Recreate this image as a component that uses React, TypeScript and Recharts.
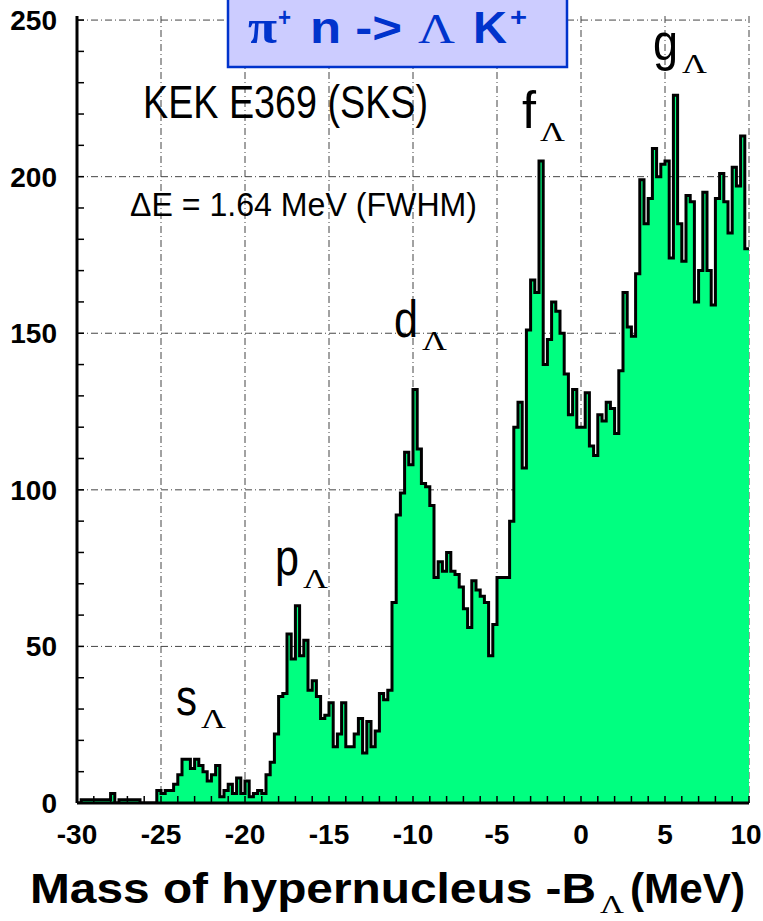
import React from "react"
import { ComposedChart, Area, XAxis, YAxis, CartesianGrid } from "recharts"

const SANS = "'Liberation Sans', Arial, Helvetica, sans-serif"
const SERIF = "'Liberation Serif', 'Times New Roman', serif"
const GREEN = "#00ff80"
const BLUE = "#0033cc"

// histogram: 0.25 MeV bins starting at -30 MeV
const BIN_START = -30
const BIN_WIDTH = 0.25

const countsM30 = [0, 1, 1, 1, 1, 1, 1, 1, 3, 0, 1, 1, 1, 1, 1, 0, 0, 0, 0, 4]
const countsM25 = [3, 4, 4, 6, 9, 14, 14, 11, 14, 12, 10, 7, 9, 12, 2, 4, 6, 3, 8, 3]
const countsM20 = [7, 2, 3, 4, 3, 9, 13, 22, 34, 35, 54, 46, 63, 47, 52, 36, 39, 34, 27, 28]
const countsM15 = [32, 18, 22, 32, 18, 18, 22, 27, 16, 26, 18, 23, 35, 33, 36, 64, 92, 99, 112, 108]
const countsM10 = [132, 113, 102, 101, 95, 72, 77, 74, 80, 74, 73, 69, 62, 56, 71, 68, 66, 64, 47, 57]
const countsM5 = [72, 72, 72, 90, 120, 128, 107, 151, 167, 163, 205, 140, 148, 160, 157, 150, 137, 124, 132, 120]
const countsP0 = [120, 131, 114, 111, 124, 122, 128, 126, 118, 138, 163, 152, 149, 169, 199, 185, 193, 209, 200, 204]
const countsP5 = [205, 174, 226, 185, 173, 194, 192, 160, 170, 195, 170, 159, 193, 201, 192, 182, 203, 197, 213, 177]

const counts = [
  ...countsM30, ...countsM25, ...countsM20, ...countsM15,
  ...countsM10, ...countsM5, ...countsP0, ...countsP5,
]

const xTicks = [-30, -25, -20, -15, -10, -5, 0, 5, 10]
const yTicks = [0, 50, 100, 150, 200, 250]
const xMinorTicks = Array.from({ length: 41 }, (_, i) => -30 + i)
const yMinorTicks = Array.from({ length: 26 }, (_, i) => i * 10)

const data = counts.map((n, i) => ({ x: BIN_START + i * BIN_WIDTH, n }))
data.push({ x: BIN_START + counts.length * BIN_WIDTH, n: counts[counts.length - 1] })

const X_DOMAIN: [number, number] = [-30, 10]
const Y_DOMAIN: [number, number] = [0, 251.3]

const XTick = (props: any) => {
  const { x, y, payload } = props
  if (!xTicks.includes(payload.value)) return <g />
  // keep the last label inside the page
  const cx = Math.min(x, 763 - 17)
  return (
    <text x={cx} y={y} textAnchor="middle" fontSize={28} fontWeight={700} fontFamily={SANS} fill="#000">
      {payload.value}
    </text>
  )
}

const YTick = (props: any) => {
  const { x, y, payload } = props
  if (!yTicks.includes(payload.value)) return <g />
  return (
    <text x={x} y={y + 10} textAnchor="end" fontSize={28} fontWeight={700} fontFamily={SANS} fill="#000">
      {payload.value}
    </text>
  )
}

type TProps = {
  x: number
  y: number
  w?: number
  size: number
  bold?: boolean
  serif?: boolean
  fill?: string
  children: React.ReactNode
}

function T({ x, y, w, size, bold, serif, fill = "#000", children }: TProps) {
  return (
    <text
      x={x}
      y={y}
      fontSize={size}
      fontWeight={bold ? 700 : 400}
      fontFamily={serif ? SERIF : SANS}
      fill={fill}
      textLength={w}
      lengthAdjust={w ? "spacingAndGlyphs" : undefined}
    >
      {children}
    </text>
  )
}

// peak label: letter + subscript Lambda
function Peak({ x, y, letter, w }: { x: number; y: number; letter: string; w: number }) {
  return (
    <g>
      <T x={x} y={y} w={w} size={52}>{letter}</T>
      <T x={x + w + 4} y={y + 13} w={25} size={28} serif>Λ</T>
    </g>
  )
}

export default function App() {
  return (
    <div style={{ position: "relative", width: 763, height: 921, background: "#fff" }}>
      <style>{"body{margin:0}"}</style>
      <ComposedChart
        width={763}
        height={921}
        data={data}
        margin={{ top: 16, right: 14, bottom: 0, left: 0 }}
      >
        <CartesianGrid
          stroke="#444"
          strokeDasharray="7 3 1 3"
          verticalValues={xTicks}
          horizontalValues={yTicks}
        />
        <XAxis
          dataKey="x"
          type="number"
          domain={X_DOMAIN}
          allowDataOverflow
          ticks={xMinorTicks}
          interval={0}
          height={118}
          tickSize={-7}
          tickMargin={48}
          axisLine={{ stroke: "#000", strokeWidth: 3 }}
          tickLine={{ stroke: "#000", strokeWidth: 1.5 }}
          tick={XTick}
        />
        <XAxis
          xAxisId="top"
          orientation="top"
          type="number"
          domain={X_DOMAIN}
          allowDataOverflow
          height={0}
          tick={false}
          tickLine={false}
          axisLine={{ stroke: "#000", strokeWidth: 2 }}
        />
        <YAxis
          type="number"
          domain={Y_DOMAIN}
          allowDataOverflow
          ticks={yMinorTicks}
          interval={0}
          width={77}
          tickSize={-7}
          tickMargin={27}
          axisLine={{ stroke: "#000", strokeWidth: 3 }}
          tickLine={{ stroke: "#000", strokeWidth: 1.5 }}
          tick={YTick}
        />
        <YAxis
          yAxisId="right"
          orientation="right"
          type="number"
          domain={Y_DOMAIN}
          allowDataOverflow
          width={0}
          tick={false}
          tickLine={false}
          axisLine={{ stroke: "#000", strokeWidth: 3 }}
        />
        <Area
          type="stepAfter"
          dataKey="n"
          stroke="#000"
          strokeWidth={3}
          fill={GREEN}
          fillOpacity={1}
          baseValue={0}
          dot={false}
          activeDot={false}
          isAnimationActive={false}
        />
      </ComposedChart>

      <svg
        width={763}
        height={921}
        style={{ position: "absolute", left: 0, top: 0, pointerEvents: "none" }}
      >
        {/* reaction box */}
        <rect x={228} y={-3} width={339} height={70} fill="#ccccff" stroke={BLUE} strokeWidth={2.5} />
        <T x={248} y={43} w={29} size={48} serif bold fill={BLUE}>π</T>
        <T x={278} y={26} w={13} size={26} bold fill={BLUE}>+</T>
        <T x={310} y={43} w={92} size={44} bold fill={BLUE}>n -&gt;</T>
        <T x={418} y={43} w={37} size={42} serif fill={BLUE}>Λ</T>
        <T x={473} y={43} w={34} size={44} bold fill={BLUE}>K</T>
        <T x={510} y={26} w={17} size={26} bold fill={BLUE}>+</T>

        <T x={143} y={118} w={285} size={46}>KEK E369 (SKS)</T>
        <T x={130} y={216} w={347} size={33}>ΔE = 1.64 MeV (FWHM)</T>

        <Peak x={176} y={715} letter="s" w={21} />
        <Peak x={275} y={575} letter="p" w={24} />
        <Peak x={394} y={337} letter="d" w={24} />
        <Peak x={522} y={128} letter="f" w={14} />
        <Peak x={653} y={60} letter="g" w={25} />

        {/* axis title */}
        <T x={30} y={903} w={566} size={42} bold>Mass of hypernucleus  -B</T>
        <T x={600} y={913} w={24} size={26} serif>Λ</T>
        <T x={630} y={903} w={115} size={42} bold>(MeV)</T>
      </svg>
    </div>
  )
}
